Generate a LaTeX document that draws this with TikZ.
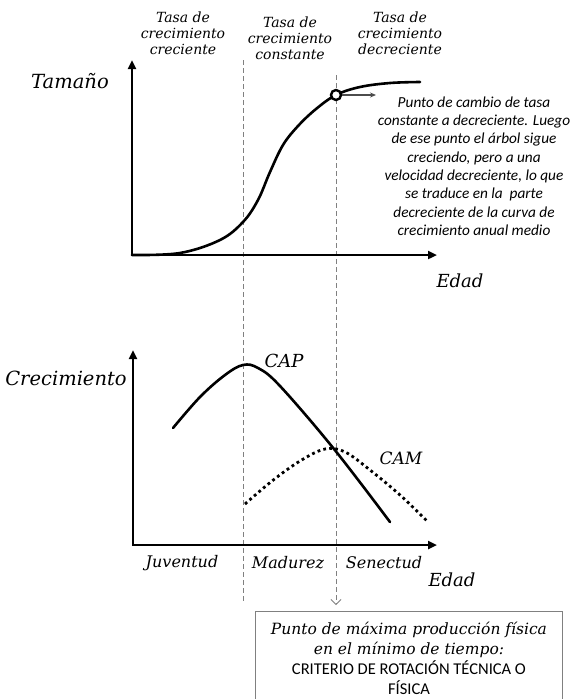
\documentclass[tikz,border=0pt]{standalone}
\usepackage{fontspec}
\setmainfont{DejaVu Serif}
\newfontfamily\carl{Carlito}
\usetikzlibrary{arrows.meta}
\begin{document}
\begin{tikzpicture}[x=1pt,y=-1pt,
  axis/.style={line width=2.6pt, line join=miter, {Triangle[length=9pt,width=8pt]}-{Triangle[length=9pt,width=8pt]}},
  curve/.style={line width=2.6pt, line cap=round},
  dotcurve/.style={line width=2.8pt, dash pattern=on 2.8pt off 3.2pt},
  guide/.style={gray, dash pattern=on 5pt off 3pt, line width=0.8pt},
  lab/.style={font=\fontsize{#1}{#1}\selectfont\itshape, inner sep=0pt},
  lab/.default=17,
  coltitle/.style={font=\fontsize{14}{16.2}\selectfont\itshape, align=center, inner sep=0pt},
  note/.style={font=\carl\fontsize{15.3}{18.3}\selectfont\itshape, align=center, inner sep=0pt},
]
\useasboundingbox (0,0) rectangle (573,699);

% guides
\coordinate (g1t) at (243,60);
\coordinate (g1b) at (243,602);
\coordinate (g2t) at (336,75);
\coordinate (g2b) at (336,605);
\draw[guide] (g1t) -- (g1b);
\draw[guide, -{Straight Barb[length=5pt,width=10pt,line width=0.8pt]}] (g2t) -- (g2b);

% column titles
\node[coltitle] (t1) at (183,33) {Tasa de\\crecimiento\\creciente};
\node[coltitle] (t2) at (290,38) {Tasa de\\crecimiento\\constante};
\node[coltitle] (t3) at (400,33) {Tasa de\\crecimiento\\decreciente};

% top chart
\coordinate (o1) at (132,255);
\coordinate (y1) at (132,60);
\coordinate (x1) at (437,255);
\draw[axis] (y1) -- (o1) -- (x1);
\node[lab=19.5] (tam) at (70,81) {Tamaño};
\node[lab=18] (edad1) at (460,281) {Edad};
\draw[curve] plot[smooth, tension=0.6] coordinates {(132,255) (180,253) (220,240) (243,222) (258,200) (270,172) (283,145) (298,126) (316,109) (336,95) (360,87) (390,83) (420,82)};
\node[circle, draw, line width=2.4pt, fill=white, inner sep=0pt, minimum size=10pt] (pt) at (336,95) {};
\coordinate (ptend) at (376,95);
\draw[gray!60!black, line width=1.3pt, -{Stealth[length=6pt,width=5pt]}] (pt.east) -- (ptend);
\node[note] (ann) at (474,166) {Punto de cambio de tasa\\constante a decreciente. Luego\\de ese punto el árbol sigue\\creciendo, pero a una\\velocidad decreciente, lo que\\se traduce en la\ \ parte\\decreciente de la curva de\\crecimiento anual medio};

% bottom chart
\coordinate (o2) at (133,545);
\coordinate (y2) at (133,350);
\coordinate (x2) at (437,545);
\draw[axis] (y2) -- (o2) -- (x2);
\node[lab=19.5] (crec) at (66,378) {Crecimiento};
\node[lab=18] (edad2) at (452,580) {Edad};
\draw[curve] plot[smooth, tension=0.6] coordinates {(173,428) (200,397) (225,375) (243,365) (258,368) (280,386) (334,449) (390,522)};
\draw[dotcurve] plot[smooth, tension=0.6] coordinates {(245,504) (272,481) (300,461) (325,449) (345,452) (370,470) (400,495) (427,521)};
\node[lab=18] (cap) at (284,361) {CAP};
\node[lab=17] (cam) at (401,458) {CAM};
\node[lab=16] (juv) at (182,563) {Juventud};
\node[lab=16] (mad) at (288,563) {Madurez};
\node[lab=16] (sen) at (384,563) {Senectud};

% bottom box
\node[draw=gray, line width=0.9pt, anchor=north west, minimum width=307pt, minimum height=94pt, align=center, inner sep=0pt,
  font=\fontsize{15.5}{20.2}\selectfont] (box) at (255,611)
  {\itshape Punto de máxima producción física\\ \itshape en el mínimo de tiempo:\\ \carl\upshape\fontsize{16.5}{20.2}\selectfont CRITERIO DE ROTACIÓN TÉCNICA O\\ \carl\upshape\fontsize{16.5}{20.2}\selectfont FÍSICA};
\end{tikzpicture}
\end{document}
